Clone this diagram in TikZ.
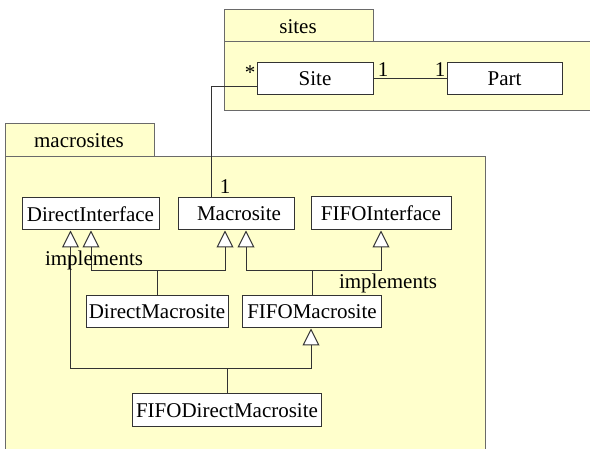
\documentclass[tikz,border=0pt]{standalone}
\usepackage{fontspec}
\setmainfont{Liberation Serif}
\usetikzlibrary{arrows.meta}
\definecolor{pkgfill}{HTML}{FFFFCC}
\definecolor{pkgline}{HTML}{6A6A6A}
\definecolor{boxline}{HTML}{333333}
\tikzset{
  pkg/.style={draw=pkgline, fill=pkgfill, line width=1pt},
  cls/.style={draw=boxline, fill=white, line width=1pt, inner sep=0pt,
    font=\fontsize{21}{24}\selectfont},
  lbl/.style={inner sep=0pt, font=\fontsize{21}{24}\selectfont},
  assoc/.style={draw=boxline, line width=1pt},
  inh/.style={draw=boxline, line width=1pt,
    -{Triangle[length=17pt,width=17pt,fill=white,line width=1pt]}},
}
\begin{document}
\begin{tikzpicture}[x=1pt,y=-1pt]
\useasboundingbox (0,0) rectangle (590,449);

% package: sites
\path[pkg] (224,10) rectangle (373,42);
\path[pkg] (224,42) rectangle (600,111);
\node[lbl] (sitesname) at (298,27) {sites};

% package: macrosites
\path[pkg] (5,124) rectangle (154,157);
\path[pkg] (5,157) rectangle (485,460);
\node[lbl] (macrositesname) at (79,141) {macrosites};

% classes
\node[cls, minimum width=116pt, minimum height=32pt] (site) at (315,79) {Site};
\node[cls, minimum width=115pt, minimum height=32pt] (part) at (504.5,79) {Part};
\node[cls, minimum width=137pt, minimum height=32pt] (di) at (90.5,214) {DirectInterface};
\node[cls, minimum width=116pt, minimum height=32pt] (ms) at (236,214) {\hspace*{6pt}Macrosite};
\node[cls, minimum width=140pt, minimum height=33pt] (fi) at (381,213.5) {FIFOInterface};
\node[cls, minimum width=142pt, minimum height=32pt] (dm) at (157,312) {DirectMacrosite};
\node[cls, minimum width=139pt, minimum height=32pt] (fm) at (312,312) {FIFOMacrosite};
\node[cls, minimum width=189pt, minimum height=33pt] (fdm) at (227,410.5) {FIFODirectMacrosite};

% associations
\draw[assoc] (site) -- (part);
\draw[assoc] ([xshift=-25pt]ms.north) |- ([yshift=-8pt]site.west);
\node[lbl] (m1) at (250,73) {*};
\node[lbl] (m2) at (383,70) {1};
\node[lbl] (m3) at (440,70) {1};
\node[lbl] (m4) at (225,187) {1};

% generalisation and realisation
\draw[inh] (dm.north) -- (dm.north |- 0,271) -| ([xshift=0.5pt]di.south);
\draw[inh] (dm.north |- 0,271) -| ([xshift=-11pt]ms.south);
\draw[inh] (fm.north) -- (fm.north |- 0,271) -| ([xshift=10pt]ms.south);
\draw[inh] (fm.north |- 0,271) -| (fi.south);
\draw[inh] (fdm.north) -- (fdm.north |- 0,369) -| ([xshift=-20pt]di.south);
\draw[inh] (fdm.north |- 0,369) -| ([xshift=-1pt]fm.south);

\node[lbl] (impl1) at (94,260) {implements};
\node[lbl] (impl2) at (388,283) {implements};
\end{tikzpicture}
\end{document}
